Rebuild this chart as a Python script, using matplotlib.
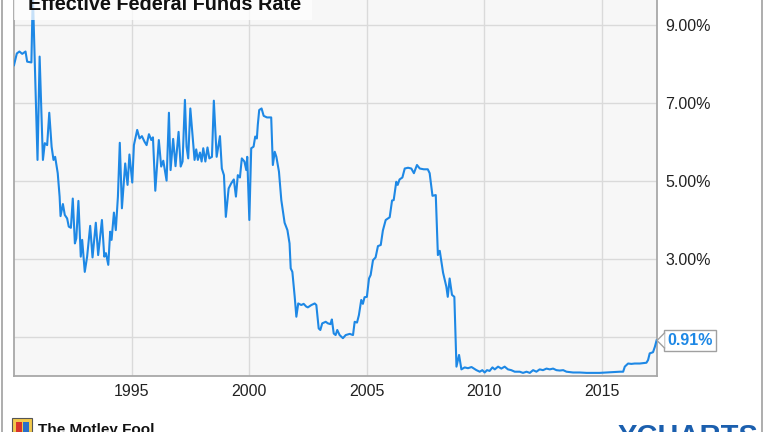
import matplotlib
matplotlib.use('Agg')
import matplotlib.pyplot as plt
import matplotlib.transforms as mtransforms
from matplotlib.patches import Rectangle, Polygon
from matplotlib.lines import Line2D

plt.rcParams['font.family'] = ['Liberation Sans', 'DejaVu Sans']

# effective federal funds rate (decimal year, %)
years = [1990.00, 1990.12, 1990.23, 1990.35, 1990.49, 1990.56, 1990.74, 1990.80, 1991.00, 1991.09,
         1991.23, 1991.31, 1991.41, 1991.50, 1991.60, 1991.68, 1991.75, 1991.86, 1991.94, 1991.98,
         1992.08, 1992.16, 1992.26, 1992.33, 1992.42, 1992.50, 1992.59, 1992.65, 1992.74, 1992.84,
         1992.90, 1993.01, 1993.11, 1993.24, 1993.34, 1993.48, 1993.58, 1993.74, 1993.84, 1993.91,
         1994.01, 1994.09, 1994.15, 1994.25, 1994.33, 1994.42, 1994.50, 1994.59, 1994.73, 1994.83,
         1994.91, 1995.03, 1995.10, 1995.24, 1995.34, 1995.44, 1995.55, 1995.64, 1995.74, 1995.84,
         1995.91, 1996.01, 1996.16, 1996.26, 1996.35, 1996.49, 1996.59, 1996.66, 1996.77, 1996.87,
         1997.00, 1997.09, 1997.17, 1997.27, 1997.34, 1997.41, 1997.50, 1997.68, 1997.75, 1997.82,
         1997.91, 1997.98, 1998.05, 1998.14, 1998.23, 1998.31, 1998.42, 1998.50, 1998.62, 1998.76,
         1998.84, 1998.93, 1999.01, 1999.13, 1999.24, 1999.35, 1999.44, 1999.52, 1999.61, 1999.69,
         1999.80, 1999.88, 1999.92, 2000.01, 2000.09, 2000.19, 2000.26, 2000.33, 2000.37, 2000.43,
         2000.53, 2000.62, 2000.76, 2000.94, 2001.01, 2001.09, 2001.16, 2001.27, 2001.37, 2001.51,
         2001.63, 2001.72, 2001.77, 2001.84, 2001.94, 2002.01, 2002.09, 2002.22, 2002.32, 2002.43,
         2002.50, 2002.65, 2002.79, 2002.86, 2002.96, 2003.03, 2003.11, 2003.26, 2003.35, 2003.46,
         2003.52, 2003.60, 2003.68, 2003.75, 2003.85, 2003.99, 2004.11, 2004.28, 2004.42, 2004.49,
         2004.59, 2004.67, 2004.77, 2004.84, 2004.91, 2005.01, 2005.10, 2005.17, 2005.27, 2005.38,
         2005.48, 2005.60, 2005.69, 2005.81, 2005.98, 2006.08, 2006.15, 2006.26, 2006.32, 2006.40,
         2006.52, 2006.62, 2006.76, 2006.90, 2007.01, 2007.14, 2007.26, 2007.43, 2007.60, 2007.68,
         2007.80, 2007.94, 2008.03, 2008.11, 2008.25, 2008.39, 2008.45, 2008.53, 2008.63, 2008.73,
         2008.82, 2008.93, 2009.03, 2009.17, 2009.31, 2009.46, 2009.67, 2009.81, 2009.92, 2010.02,
         2010.12, 2010.23, 2010.35, 2010.45, 2010.59, 2010.73, 2010.87, 2011.01, 2011.15, 2011.30,
         2011.51, 2011.65, 2011.80, 2011.94, 2012.08, 2012.22, 2012.36, 2012.50, 2012.65, 2012.79,
         2012.93, 2013.07, 2013.21, 2013.36, 2013.50, 2013.78, 2014.06, 2014.35, 2014.63, 2014.91,
         2015.20, 2015.48, 2015.77, 2015.91, 2015.98, 2016.12, 2016.26, 2016.40, 2016.62, 2016.90,
         2016.97, 2017.04, 2017.18, 2017.26, 2017.33]
rates = [7.97, 8.27, 8.32, 8.26, 8.32, 8.06, 8.04, 9.85, 5.54, 8.19,
         5.54, 5.97, 5.92, 6.75, 5.88, 5.54, 5.62, 5.20, 4.60, 4.10,
         4.41, 4.13, 4.04, 3.83, 3.80, 4.55, 3.40, 3.53, 4.49, 3.06,
         3.49, 2.67, 3.06, 3.85, 3.04, 3.93, 3.10, 4.00, 3.06, 3.15,
         2.85, 3.70, 3.49, 4.19, 3.74, 4.60, 5.98, 4.30, 5.45, 4.90,
         5.68, 4.96, 5.92, 6.31, 6.09, 6.15, 6.01, 5.92, 6.20, 6.05,
         6.12, 4.75, 6.05, 5.37, 5.52, 5.01, 6.75, 5.28, 6.08, 5.38,
         6.26, 5.37, 5.50, 7.08, 5.88, 5.58, 6.86, 5.54, 5.81, 5.54,
         5.73, 5.50, 5.84, 5.50, 5.86, 5.58, 5.62, 7.06, 5.62, 6.15,
         5.32, 5.15, 4.08, 4.81, 4.94, 5.04, 4.60, 5.15, 5.09, 5.58,
         5.50, 5.28, 5.62, 4.00, 5.84, 5.88, 6.14, 6.09, 6.44, 6.82,
         6.86, 6.67, 6.63, 6.63, 5.41, 5.75, 5.62, 5.24, 4.51, 3.93,
         3.74, 3.40, 2.76, 2.67, 2.03, 1.52, 1.86, 1.82, 1.85, 1.78,
         1.76, 1.82, 1.86, 1.82, 1.22, 1.18, 1.35, 1.39, 1.35, 1.33,
         1.45, 1.09, 1.05, 1.18, 1.05, 0.97, 1.05, 1.08, 1.05, 1.39,
         1.37, 1.56, 1.95, 1.85, 2.02, 2.03, 2.50, 2.59, 2.97, 3.04,
         3.33, 3.36, 3.73, 4.00, 4.07, 4.50, 4.51, 4.98, 4.90, 5.04,
         5.09, 5.32, 5.34, 5.32, 5.20, 5.41, 5.32, 5.30, 5.30, 5.20,
         4.62, 4.64, 3.10, 3.21, 2.65, 2.29, 2.03, 2.50, 2.08, 2.03,
         0.24, 0.54, 0.17, 0.22, 0.20, 0.23, 0.15, 0.11, 0.15, 0.09,
         0.15, 0.13, 0.22, 0.17, 0.24, 0.19, 0.24, 0.17, 0.15, 0.11,
         0.11, 0.08, 0.11, 0.08, 0.15, 0.11, 0.17, 0.15, 0.19, 0.17,
         0.19, 0.15, 0.14, 0.15, 0.11, 0.09, 0.09, 0.08, 0.08, 0.08,
         0.09, 0.10, 0.11, 0.11, 0.24, 0.32, 0.31, 0.32, 0.32, 0.34,
         0.41, 0.58, 0.61, 0.75, 0.91]

x_ticks = [1995, 2000, 2005, 2010, 2015]
y_ticks = [1, 3, 5, 7, 9]
y_labels = ['', '3.00%', '5.00%', '7.00%', '9.00%']
title = 'Effective Federal Funds Rate'
last_label = '0.91%'

blue = '#1e88e5'
W, H = 764, 432

fig = plt.figure(figsize=(W / 100, H / 100), dpi=100)
fig.patch.set_facecolor('white')
# plot area: left 14px, right 657px, zero line at 376px from top (top is cut off)
ax = fig.add_axes([14 / W, 56 / H, 643 / W, 397.8 / H])
ax.set_facecolor('#f7f7f7')

ax.plot(years, rates, color=blue, lw=1.5, solid_joinstyle='round', zorder=3)

ax.set_xlim(1990.0, 2017.35)
ax.set_ylim(0, 10.2)
ax.set_xticks(x_ticks)
ax.set_xticklabels([str(t) for t in x_ticks])
ax.set_yticks(y_ticks)
ax.set_yticklabels(y_labels)
ax.yaxis.tick_right()
ax.tick_params(axis='both', length=0, labelsize=11.5, colors='#222222')
ax.tick_params(axis='x', pad=6)
ax.tick_params(axis='y', pad=6)
ax.grid(True, color='#dadada', lw=1.0)
ax.set_axisbelow(True)

for side in ['left', 'bottom', 'right']:
    ax.spines[side].set_color('#a8a8a8')
    ax.spines[side].set_linewidth(1.3)
ax.spines['top'].set_visible(False)

# end-value callout
trans = mtransforms.blended_transform_factory(ax.transAxes, ax.transData)
ax.text(1.016, rates[-1], last_label, transform=trans, color=blue, fontweight='bold',
        fontsize=11.5, ha='left', va='center', clip_on=False, zorder=10,
        bbox=dict(boxstyle='square,pad=0.2', fc='white', ec='#a0a0a0', lw=1.0))
tip = (657, 340.5)
pts = [(664.5, 333), tip, (664.5, 348)]
fpts = [(x / W, (H - y) / H) for x, y in pts]
fig.add_artist(Polygon(fpts, closed=True, fc='white', ec='none', transform=fig.transFigure, zorder=11))
fig.add_artist(Line2D([p[0] for p in fpts], [p[1] for p in fpts], color='#a0a0a0', lw=1.0,
                      transform=fig.transFigure, zorder=12))

# title box (partly cut off at the top)
fig.add_artist(Rectangle((14 / W, (H - 20) / H), 298 / W, 40 / H, fc='white', ec='none',
                         alpha=0.75, transform=fig.transFigure, zorder=5))
fig.text(28 / W, (H - 10) / H, title, fontsize=14.3, fontweight='bold', color='#111111',
         ha='left', va='baseline', zorder=6)

# outer frame
for xpix in [2, 762]:
    fig.add_artist(Line2D([xpix / W, xpix / W], [0, 1], color='#a0a0a0', lw=1.2,
                          transform=fig.transFigure))

# footer (mostly cut off at the bottom)
fig.add_artist(Rectangle((12 / W, 0), 20 / H * H / W, 14 / H, fc='#f2c94c', ec='#555555', lw=0.8,
                         transform=fig.transFigure))
fig.add_artist(Rectangle((16 / W, 0), 6 / W, 10 / H, fc='#d9342b', ec='none',
                         transform=fig.transFigure))
fig.add_artist(Rectangle((23 / W, 0), 6 / W, 10 / H, fc='#2a6fc9', ec='none',
                         transform=fig.transFigure))
fig.text(38 / W, (H - 423) / H, 'The Motley Fool', fontsize=11, fontweight='bold',
         color='#111111', ha='left', va='top')
fig.text(618 / W, (H - 423) / H, 'YCHARTS', fontsize=21, fontweight='bold',
         color='#1b5fae', ha='left', va='top')

fig.savefig('out.png', dpi=100)
